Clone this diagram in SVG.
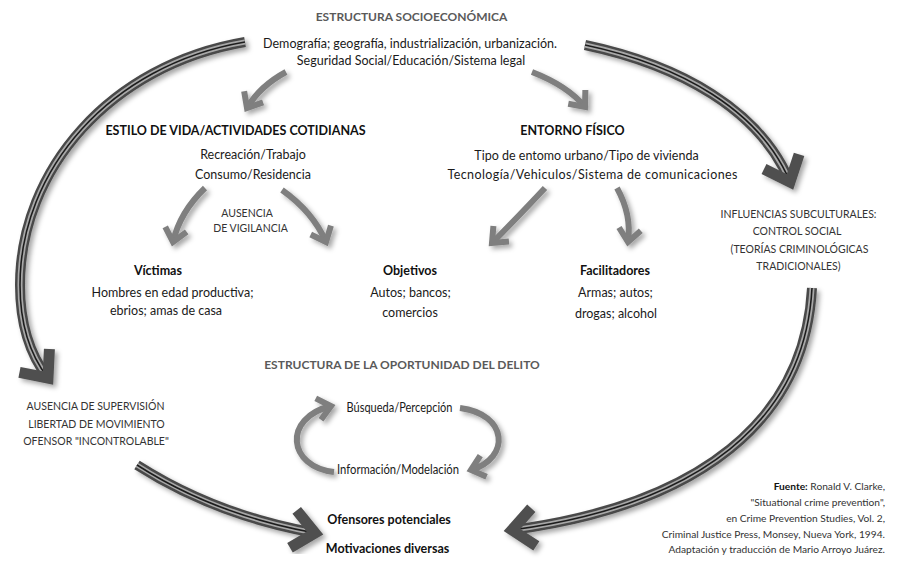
<svg xmlns="http://www.w3.org/2000/svg" width="897" height="566" viewBox="0 0 897 566">
<defs>
<style>
text{font-family:"Lato","Open Sans","Liberation Sans",sans-serif;text-anchor:middle}
.t{font-size:12.5px;fill:#1a1a1a}
.h{font-size:12.5px;font-weight:bold;fill:#111}
.g{font-size:12px;font-weight:bold;fill:#5a5a5a}
.c{font-size:10.5px;fill:#333}
.f{font-size:10.2px;fill:#333;text-anchor:end}
.med{fill:none;stroke:#7f7f7f;stroke-width:6;marker-end:url(#chev)}
.bigO{fill:none;stroke:#4a4a4a;stroke-width:10}
.bigH{fill:none;stroke:#a8a8a8;stroke-width:5}
.bigC{fill:none;stroke:#1e1e1e;stroke-width:1.6}
.bigE{fill:none;stroke:none;stroke-width:10;marker-end:url(#bchev)}
</style>
<filter id="sh" x="-30%" y="-30%" width="160%" height="160%">
<feDropShadow dx="3" dy="3" stdDeviation="2.5" flood-color="#000" flood-opacity="0.35"/>
</filter>
<marker id="chev" markerUnits="userSpaceOnUse" viewBox="-25 -20 35 40" markerWidth="35" markerHeight="40" refX="0" refY="0" orient="auto">
<path d="M -13 -11 L 0 0 L -13 11" fill="none" stroke="#7f7f7f" stroke-width="6"/>
</marker>
<marker id="bchev" markerUnits="userSpaceOnUse" viewBox="-40 -35 55 70" markerWidth="55" markerHeight="70" refX="0" refY="0" orient="auto">
<path d="M -22 -19 L 0 0 L -22 19" fill="none" stroke="#505050" stroke-width="11"/>
</marker>
</defs>
<rect width="897" height="566" fill="#fff"/>

<g id="connectors">
<g filter="url(#sh)">
<path class="bigO" d="M 245 42 C 110 65 20 170 20 285 C 20 325 30 355 48 378"/>
<path class="bigH" d="M 245 42 C 110 65 20 170 20 285 C 20 325 30 355 48 378"/>
<path class="bigC" d="M 245 42 C 110 65 20 170 20 285 C 20 325 30 355 48 378"/>
<path class="bigE" d="M 245 42 C 110 65 20 170 20 285 C 20 325 30 355 48 378"/>
</g>
<g filter="url(#sh)">
<path class="bigO" d="M 585 45 C 680 65 760 110 790 182"/>
<path class="bigH" d="M 585 45 C 680 65 760 110 790 182"/>
<path class="bigC" d="M 585 45 C 680 65 760 110 790 182"/>
<path class="bigE" d="M 585 45 C 680 65 760 110 790 182"/>
</g>
<g filter="url(#sh)">
<path class="bigO" d="M 812 288 C 805 420 700 505 512 530"/>
<path class="bigH" d="M 812 288 C 805 420 700 505 512 530"/>
<path class="bigC" d="M 812 288 C 805 420 700 505 512 530"/>
<path class="bigE" d="M 812 288 C 805 420 700 505 512 530"/>
</g>
<g filter="url(#sh)">
<path class="bigO" d="M 137 465 Q 215 515 315 533"/>
<path class="bigH" d="M 137 465 Q 215 515 315 533"/>
<path class="bigC" d="M 137 465 Q 215 515 315 533"/>
<path class="bigE" d="M 137 465 Q 215 515 315 533"/>
</g>
<g filter="url(#sh)">
<path class="med" d="M 286 72 Q 260 86 247 108"/>
<path class="med" d="M 532 72 Q 568 86 585 107"/>
<path class="med" d="M 205 188 Q 180 212 173 242"/>
<path class="med" d="M 282 190 Q 313 212 326 242"/>
<path class="med" d="M 545 188 Q 515 220 492 243"/>
<path class="med" d="M 617 188 Q 632 215 628 242"/>
<path class="med" d="M 334 472 C 288 467 282 418 331 406"/>
<path class="med" d="M 460 408 C 508 414 511 458 471 470"/>
</g>
</g>

<g id="socioeconomica">
<text class="g" x="411.5" y="21">ESTRUCTURA SOCIOECONÓMICA</text>
<text class="t" x="410" y="48">Demografía; geografía, industrialización, urbanización.</text>
<text class="t" x="411" y="65">Seguridad Social/Educación/Sistema legal</text>
</g>

<g id="estilo-vida">
<text class="h" x="235.5" y="135">ESTILO DE VIDA/ACTIVIDADES COTIDIANAS</text>
<text class="t" x="253" y="159">Recreación/Trabajo</text>
<text class="t" x="253" y="179">Consumo/Residencia</text>
</g>

<g id="ausencia-vigilancia">
<text class="c" x="247" y="217">AUSENCIA</text>
<text class="c" x="250.5" y="232">DE VIGILANCIA</text>
</g>

<g id="entorno-fisico">
<text class="h" x="572.5" y="135">ENTORNO FÍSICO</text>
<text class="t" x="586.5" y="160">Tipo de entomo urbano/Tipo de vivienda</text>
<text class="t" x="592.5" y="179" textLength="290" lengthAdjust="spacing">Tecnología/Vehiculos/Sistema de comunicaciones</text>
</g>

<g id="influencias">
<text class="c" x="798.5" y="218">INFLUENCIAS SUBCULTURALES:</text>
<text class="c" x="797" y="235">CONTROL SOCIAL</text>
<text class="c" x="799.5" y="253">(TEORÍAS CRIMINOLÓGICAS</text>
<text class="c" x="798.5" y="270">TRADICIONALES)</text>
</g>

<g id="victimas">
<text class="h" x="158" y="275">Víctimas</text>
<text class="t" x="172.5" y="297">Hombres en edad productiva;</text>
<text class="t" x="166" y="315">ebrios; amas de casa</text>
</g>

<g id="objetivos">
<text class="h" x="410" y="275">Objetivos</text>
<text class="t" x="410.5" y="297">Autos; bancos;</text>
<text class="t" x="410" y="317">comercios</text>
</g>

<g id="facilitadores">
<text class="h" x="615" y="275">Facilitadores</text>
<text class="t" x="615.5" y="297">Armas; autos;</text>
<text class="t" x="616" y="318">drogas; alcohol</text>
</g>

<g id="oportunidad">
<text class="g" x="402" y="369">ESTRUCTURA DE LA OPORTUNIDAD DEL DELITO</text>
</g>

<g id="busqueda">
<text class="t" x="399.5" y="412" textLength="106" lengthAdjust="spacingAndGlyphs">Búsqueda/Percepción</text>
</g>

<g id="informacion">
<text class="t" x="398" y="474" textLength="122" lengthAdjust="spacingAndGlyphs">Información/Modelación</text>
</g>

<g id="ausencia-supervision">
<text class="c" x="95.5" y="410">AUSENCIA DE SUPERVISIÓN</text>
<text class="c" x="96.5" y="428">LIBERTAD DE MOVIMIENTO</text>
<text class="c" x="96" y="445">OFENSOR "INCONTROLABLE"</text>
</g>

<g id="ofensores">
<text class="h" x="389" y="524">Ofensores potenciales</text>
<text class="h" x="387.5" y="553">Motivaciones diversas</text>
</g>

<g id="fuente">
<text class="f" x="885" y="490"><tspan font-weight="bold" fill="#111">Fuente:</tspan> Ronald V. Clarke,</text>
<text class="f" x="885" y="506">"Situational crime prevention",</text>
<text class="f" x="885" y="522">en Crime Prevention Studies, Vol. 2,</text>
<text class="f" x="885" y="538">Criminal Justice Press, Monsey, Nueva York, 1994.</text>
<text class="f" x="885" y="553">Adaptación y traducción de Mario Arroyo Juárez.</text>
</g>
</svg>
